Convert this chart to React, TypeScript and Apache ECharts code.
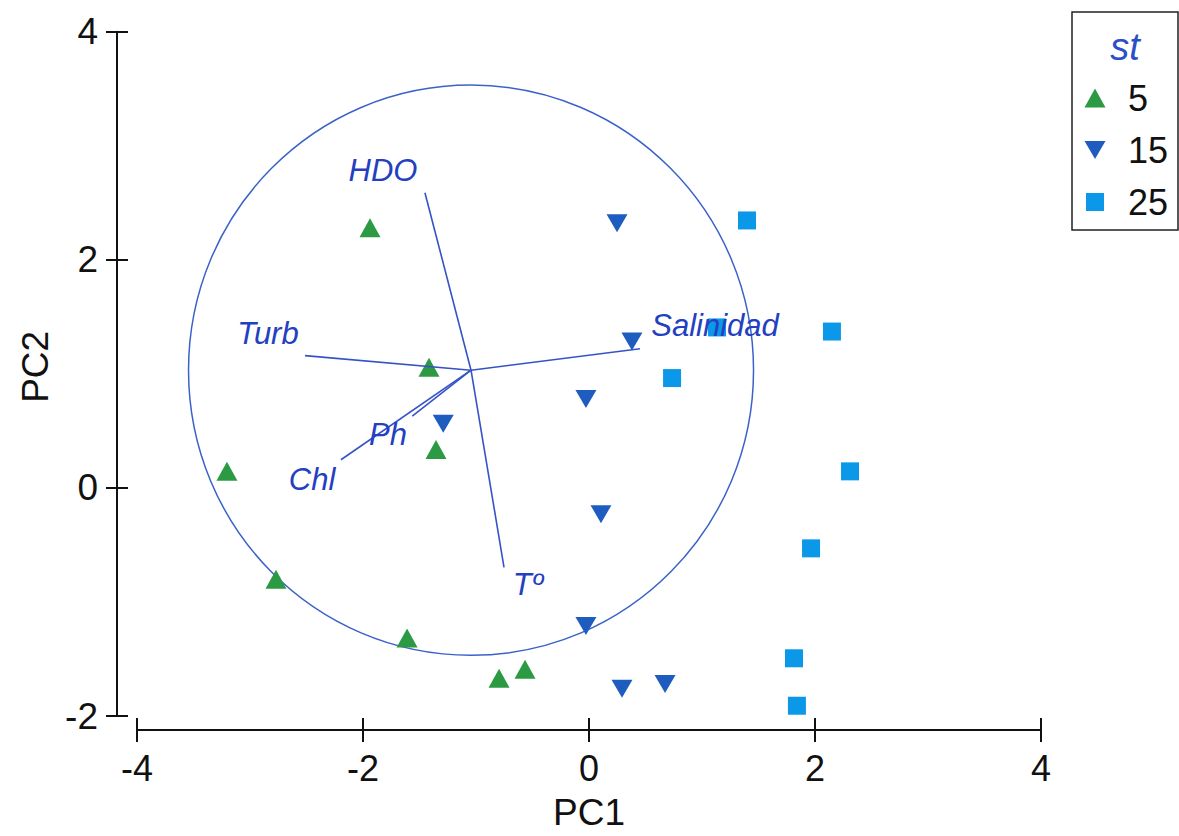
import { useEffect, useRef } from "react";
import * as echarts from "echarts";

// Sample scores on the first two principal components, grouped by station
const st5X = [-1.938, -1.416, -1.354, -3.204, -2.77, -1.61, -0.796, -0.566];
const st5Y = [2.28, 1.057, 0.336, 0.145, -0.8, -1.316, -1.67, -1.59];
const st15X = [0.248, 0.38, -0.027, -1.29, 0.106, -0.027, 0.292, 0.673];
const st15Y = [2.32, 1.284, 0.78, 0.563, -0.23, -1.21, -1.76, -1.72];
const st25X = [1.398, 1.133, 0.735, 2.15, 2.31, 1.965, 1.814, 1.84];
const st25Y = [2.345, 1.407, 0.963, 1.371, 0.145, -0.53, -1.494, -1.91];

// Variable vectors (loadings) drawn from a common origin
const vectorNames = ["HDO", "Turb", "Salinidad", "Chl", "Ph", "Tº"];
const vectorEndX = [-1.452, -2.513, 0.451, -2.195, -1.564, -0.752];
const vectorEndY = [2.588, 1.16, 1.22, 0.247, 0.63, -0.696];
const vectorLabelX = [-1.823, -2.841, 1.115, -2.451, -1.779, -0.54];
const vectorLabelY = [2.78, 1.354, 1.423, 0.076, 0.467, -0.846];
const vectorOrigin = [-1.044, 1.032];
const circleRadius = 2.5;

// Axis ranges
const xMin = -4;
const xMax = 4;
const yMin = -2;
const yMax = 4;
const tickStep = 2;

const legendTitle = "st";
const stationNames = ["5", "15", "25"];

const GREEN = "#2b9a43";
const DARK_BLUE = "#1f5cbf";
const LIGHT_BLUE = "#0c98e9";
const VEC_BLUE = "#3553c6";
const LABEL_BLUE = "#2340c0";
const FONT = '"Liberation Sans", Arial, Helvetica, sans-serif';

const zip = (xs: number[], ys: number[]) => xs.map((x, i) => [x, ys[i]]);

export default function App() {
  const ref = useRef<HTMLDivElement>(null);

  useEffect(() => {
    if (!ref.current) return;
    const chart = echarts.init(ref.current, null, { renderer: "svg" });

    const axisCommonX = {
      type: "value" as const,
      min: xMin,
      max: xMax,
      interval: tickStep,
      splitLine: { show: false },
    };
    const axisCommonY = {
      type: "value" as const,
      min: yMin,
      max: yMax,
      interval: tickStep,
      splitLine: { show: false },
    };
    const tickLine = { color: "#111", width: 2 };

    const option: any = {
      animation: false,
      backgroundColor: "#ffffff",
      grid: { left: 137, right: 138, top: 31.7, bottom: 114.3, containLabel: false },
      xAxis: [
        {
          ...axisCommonX,
          position: "bottom",
          offset: 14,
          axisLine: { show: true, onZero: false, lineStyle: tickLine },
          axisTick: { show: true, length: 12, lineStyle: tickLine },
          axisLabel: { fontSize: 36, color: "#111", fontFamily: FONT, margin: 20 },
          name: "PC1",
          nameLocation: "middle",
          nameGap: 64,
          nameTextStyle: { fontSize: 37, color: "#111", fontFamily: FONT },
        },
        {
          ...axisCommonX,
          position: "bottom",
          offset: 14,
          axisLine: { show: false, onZero: false },
          axisTick: { show: true, inside: true, length: 12, lineStyle: tickLine },
          axisLabel: { show: false },
        },
      ],
      yAxis: [
        {
          ...axisCommonY,
          position: "left",
          offset: 20,
          axisLine: { show: true, onZero: false, lineStyle: tickLine },
          axisTick: { show: true, length: 11, lineStyle: tickLine },
          axisLabel: { fontSize: 37, color: "#111", fontFamily: FONT, margin: 19 },
          name: "PC2",
          nameLocation: "middle",
          nameGap: 62,
          nameRotate: 90,
          nameTextStyle: { fontSize: 37, color: "#111", fontFamily: FONT, padding: [0, 0, 0, 14] },
        },
        {
          ...axisCommonY,
          position: "left",
          offset: 20,
          axisLine: { show: false, onZero: false },
          axisTick: { show: true, inside: true, length: 11, lineStyle: tickLine },
          axisLabel: { show: false },
        },
      ],
      series: [
        {
          name: "circle",
          type: "custom",
          z: 1,
          silent: true,
          data: [[vectorOrigin[0], vectorOrigin[1], circleRadius]],
          encode: { x: 0, y: 1 },
          renderItem: (_params: any, api: any) => {
            const c = api.coord([api.value(0), api.value(1)]);
            const s = api.size([api.value(2), api.value(2)]);
            return {
              type: "ellipse",
              shape: { cx: c[0], cy: c[1], rx: s[0], ry: s[1] },
              style: { fill: "none", stroke: "#3b62c9", lineWidth: 1.5 },
            };
          },
        },
        {
          name: stationNames[0],
          type: "scatter",
          z: 2,
          symbol: "triangle",
          symbolSize: [21, 19],
          itemStyle: { color: GREEN, opacity: 1 },
          data: zip(st5X, st5Y),
        },
        {
          name: stationNames[1],
          type: "scatter",
          z: 2,
          symbol: "triangle",
          symbolRotate: 180,
          symbolSize: [21, 18],
          itemStyle: { color: DARK_BLUE, opacity: 1 },
          data: zip(st15X, st15Y),
        },
        {
          name: stationNames[2],
          type: "scatter",
          z: 2,
          symbol: "rect",
          symbolSize: [18, 18],
          itemStyle: { color: LIGHT_BLUE, opacity: 1 },
          data: zip(st25X, st25Y),
        },
        {
          name: "vectors",
          type: "custom",
          z: 3,
          silent: true,
          data: vectorNames.map((n, i) => ({
            name: n,
            value: [vectorEndX[i], vectorEndY[i], vectorLabelX[i], vectorLabelY[i]],
          })),
          encode: { x: 0, y: 1 },
          renderItem: (params: any, api: any) => {
            const o = api.coord(vectorOrigin);
            const e = api.coord([api.value(0), api.value(1)]);
            const l = api.coord([api.value(2), api.value(3)]);
            return {
              type: "group",
              children: [
                {
                  type: "line",
                  shape: { x1: o[0], y1: o[1], x2: e[0], y2: e[1] },
                  style: { stroke: VEC_BLUE, lineWidth: 1.6 },
                },
                {
                  type: "text",
                  x: l[0],
                  y: l[1],
                  style: {
                    text: vectorNames[params.dataIndex],
                    fill: LABEL_BLUE,
                    fontSize: 31,
                    fontStyle: "italic",
                    fontFamily: FONT,
                    align: "center",
                    verticalAlign: "middle",
                  },
                },
              ],
            };
          },
        },
      ],
      graphic: [
        {
          type: "rect",
          shape: { x: 1072, y: 12, width: 106, height: 218 },
          style: { fill: "#fff", stroke: "#222", lineWidth: 1.5 },
          z: 10,
        },
        {
          type: "text",
          x: 1125,
          y: 47,
          style: {
            text: legendTitle,
            fill: "#2a4fc8",
            fontSize: 38,
            fontStyle: "italic",
            fontFamily: FONT,
            align: "center",
            verticalAlign: "middle",
          },
          z: 11,
        },
        {
          type: "polygon",
          shape: { points: [[1084.5, 107.5], [1105.5, 107.5], [1095, 88.5]] },
          style: { fill: GREEN },
          z: 11,
        },
        {
          type: "polygon",
          shape: { points: [[1084.5, 141], [1105.5, 141], [1095, 159]] },
          style: { fill: DARK_BLUE },
          z: 11,
        },
        {
          type: "rect",
          shape: { x: 1086, y: 193, width: 18, height: 18 },
          style: { fill: LIGHT_BLUE },
          z: 11,
        },
        ...stationNames.map((n, i) => ({
          type: "text",
          x: 1128,
          y: 98 + i * 52,
          style: {
            text: n,
            fill: "#111",
            fontSize: 36,
            fontFamily: FONT,
            align: "left",
            verticalAlign: "middle",
          },
          z: 11,
        })),
      ],
    };

    chart.setOption(option);
    return () => chart.dispose();
  }, []);

  return (
    <div
      ref={ref}
      style={{ position: "absolute", left: 0, top: 0, width: 1179, height: 836, background: "#fff" }}
    />
  );
}
